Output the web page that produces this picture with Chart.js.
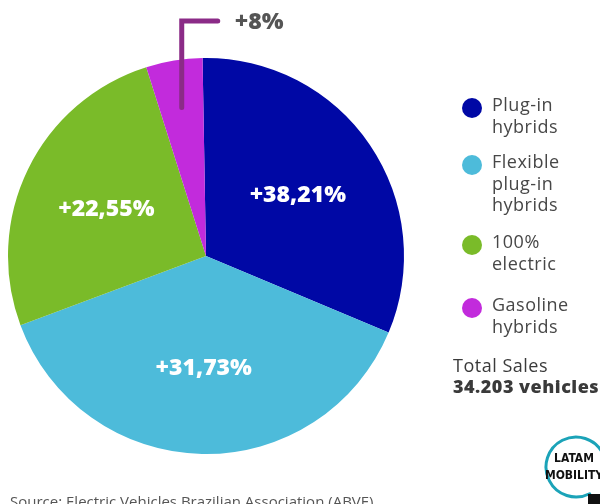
<!DOCTYPE html>
<html>
<head>
<meta charset="utf-8">
<script src="https://cdn.jsdelivr.net/npm/chart.js@4"></script>
<style>
  html, body { margin: 0; padding: 0; background: #fff; }
  #wrap { width: 600px; height: 504px; }
</style>
</head>
<body>
<div id="wrap"><canvas id="pieChart" width="600" height="504"></canvas></div>
<script>
// Values
const categories = ["Plug-in hybrids", "Flexible plug-in hybrids", "100% electric", "Gasoline hybrids"];
const legendLines = [["Plug-in", "hybrids"], ["Flexible", "plug-in", "hybrids"], ["100%", "electric"], ["Gasoline", "hybrids"]];
const sliceShares = [31.6, 38.0, 25.8, 4.6]; // share of the pie as drawn
const sliceLabels = ["+38,21%", "+31,73%", "+22,55%", "+8%"];
const sliceColors = ["#0008A5", "#4DBBDA", "#7ABB29", "#C22BDC"];
const totalTitle = "Total Sales";
const totalValue = "34.203 vehicles";
const sourceText = "Source: Electric Vehicles Brazilian Association (ABVE)";

const TEXT_GREY = "#474747";

// slice labels, callout for the small slice, legend, notes and logo
const decorations = {
    id: "decorations",
    afterDraw(chart) {
        const ctx = chart.ctx;
        const arcs = chart.getDatasetMeta(0).data;

        ctx.save();
        ctx.textAlign = "center";
        ctx.textBaseline = "middle";
        ctx.font = "800 23px 'Open Sans'";
        ctx.fillStyle = "#fff";
        arcs.forEach((arc, i) => {
            if (i === 3) return;
            const p = arc.getProps(["x", "y", "startAngle", "endAngle", "outerRadius"], true);
            const mid = (p.startAngle + p.endAngle) / 2;
            const r = p.outerRadius * 0.56;
            ctx.fillText(sliceLabels[i], p.x + Math.cos(mid) * r, p.y + Math.sin(mid) * r + 2);
        });

        // callout for the gasoline slice
        const g = arcs[3].getProps(["x", "y", "startAngle", "endAngle", "outerRadius"], true);
        const gMid = (g.startAngle + g.endAngle) / 2;
        const bx = g.x + Math.cos(gMid) * g.outerRadius * 0.76;
        const by = g.y + Math.sin(gMid) * g.outerRadius * 0.76;
        const topY = g.y - g.outerRadius - 37;
        ctx.strokeStyle = "#8B2B87";
        ctx.lineWidth = 5;
        ctx.lineCap = "round";
        ctx.lineJoin = "miter";
        ctx.beginPath();
        ctx.moveTo(bx, by);
        ctx.lineTo(bx, topY);
        ctx.lineTo(bx + 36, topY);
        ctx.stroke();
        ctx.fillStyle = "#555";
        ctx.textAlign = "left";
        ctx.fillText(sliceLabels[3], bx + 53, topY + 1);

        // legend
        const lx = 472, textX = 492;
        const dotY = [108, 165, 245, 308];
        ctx.font = "18px 'Open Sans'";
        ctx.letterSpacing = "0.5px";
        legendLines.forEach((lines, i) => {
            ctx.fillStyle = sliceColors[i];
            ctx.beginPath();
            ctx.arc(lx, dotY[i], 10, 0, Math.PI * 2);
            ctx.fill();
            ctx.fillStyle = TEXT_GREY;
            lines.forEach((t, j) => ctx.fillText(t, textX, dotY[i] - 2 + j * 21.5));
        });

        ctx.fillStyle = "#3a3a3a";
        ctx.fillText(totalTitle, 453, 367);
        ctx.font = "800 18px 'Open Sans'";
        ctx.fillText(totalValue, 453, 388);
        ctx.letterSpacing = "0px";

        ctx.font = "15px 'Open Sans'";
        ctx.fillStyle = "#555";
        ctx.textBaseline = "alphabetic";
        ctx.fillText(sourceText, 10, 507);

        // logo
        ctx.strokeStyle = "#1BA3B8";
        ctx.lineWidth = 3;
        ctx.beginPath();
        ctx.arc(576, 467, 30, Math.PI * 0.35, Math.PI * 2.15);
        ctx.stroke();
        ctx.fillStyle = "#111";
        ctx.textAlign = "center";
        ctx.textBaseline = "middle";
        ctx.font = "bold 12px 'DejaVu Sans Condensed', 'Liberation Sans Narrow', sans-serif";
        ctx.fillText("LATAM", 574, 459);
        ctx.fillText("MOBILITY", 574, 476);
        ctx.fillRect(588, 494, 12, 10);
        ctx.restore();
    }
};

const ctx = document.getElementById("pieChart").getContext("2d");
const pieChart = new Chart(ctx, {
    type: "pie",
    data: {
        labels: categories,
        datasets: [{
            data: sliceShares,
            backgroundColor: sliceColors,
            borderWidth: 0
        }]
    },
    options: {
        responsive: false,
        animation: false,
        rotation: -1,
        layout: {
            padding: { left: 8, top: 58, right: 196, bottom: 50 }
        },
        plugins: {
            legend: { display: false },
            tooltip: { enabled: false }
        }
    },
    plugins: [decorations]
});
</script>
</body>
</html>
